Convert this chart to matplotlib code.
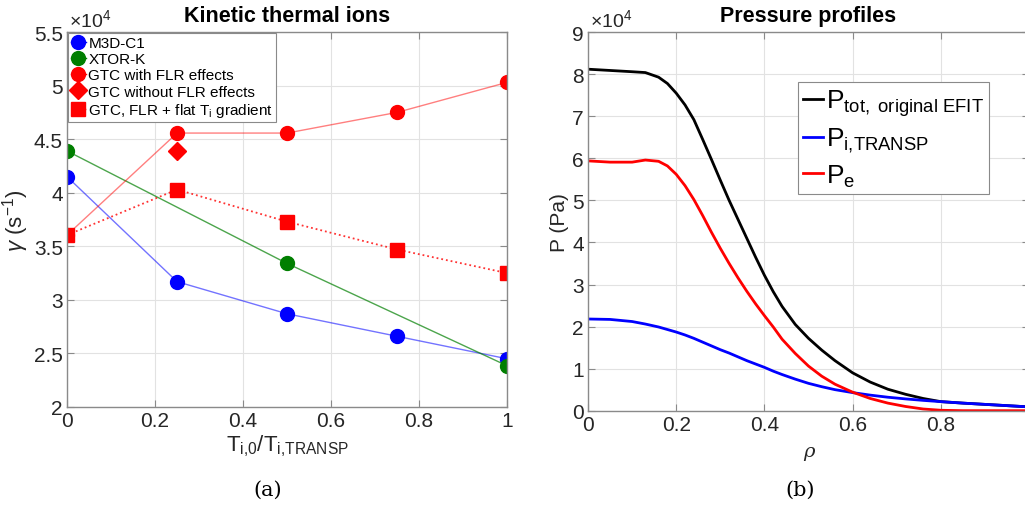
import numpy as np
from matplotlib import pyplot as plt
from matplotlib.ticker import FuncFormatter, MultipleLocator
from matplotlib.lines import Line2D

plt.rcParams['font.family'] = ['Liberation Sans', 'DejaVu Sans']
plt.rcParams['mathtext.fontset'] = 'custom'
plt.rcParams['mathtext.rm'] = 'Liberation Sans'
plt.rcParams['mathtext.it'] = 'Liberation Sans:italic'
plt.rcParams['mathtext.bf'] = 'Liberation Sans:bold'

# ---- panel (a): growth rate vs T_i,0 / T_i,TRANSP
ratio = [0, 0.25, 0.5, 0.75, 1.0]
m3d = [41500, 31700, 28700, 26600, 24500]
xtor_x = [0, 0.5, 1.0]
xtor = [43900, 33400, 23850]
gtc_flr = [36050, 45570, 45570, 47500, 50300]
gtc_noflr_x = [0.25]
gtc_noflr = [43900]
gtc_flat = [36050, 40300, 37300, 34700, 32500]

# ---- panel (b): pressure profiles (Pa)
rho = [0, 0.05, 0.1, 0.13, 0.16, 0.18, 0.2, 0.22, 0.24, 0.26, 0.28, 0.3, 0.32,
       0.34, 0.36, 0.38, 0.4, 0.42, 0.44, 0.47, 0.5, 0.53, 0.56, 0.6, 0.64,
       0.68, 0.72, 0.76, 0.8, 0.85, 0.9, 0.95, 1.0]
p_tot = [81200, 80900, 80600, 80400, 79300, 77800, 75500, 72700, 69200, 64500,
         59700, 54800, 50000, 45500, 41000, 36500, 32200, 28300, 24800, 20500,
         17200, 14400, 11900, 9000, 6800, 5100, 3900, 2900, 2150, 1800, 1500,
         1200, 900]
p_i = [21800, 21700, 21200, 20600, 19900, 19300, 18700, 18000, 17200, 16300,
       15400, 14500, 13700, 12800, 11900, 11100, 10300, 9400, 8600, 7500,
       6500, 5700, 5000, 4300, 3700, 3200, 2800, 2450, 2150, 1800, 1500,
       1200, 900]
p_e = [59400, 59100, 59100, 59600, 59300, 58200, 56200, 53500, 50200, 46400,
       42400, 38600, 35000, 31600, 28400, 25400, 22600, 19900, 17000, 13600,
       10600, 8200, 6300, 4400, 2900, 1800, 1000, 400, 100, 0, 0, 0, 0]

BLUE = '#0000ff'
GREEN = '#007f00'
RED = '#ff0000'
SPINE = '#8a8a8a'
TXT = '#262626'


def matlab_axes(ax):
	for s in ax.spines.values():
		s.set_color(SPINE)
		s.set_linewidth(1.0)
	ax.tick_params(direction='in', length=5, width=0.8, color=SPINE,
		labelsize=15, labelcolor=TXT, top=True, right=True, pad=3)
	ax.grid(True, color='#e2e2e2', linewidth=0.8)
	ax.set_axisbelow(True)
	ax.yaxis.set_major_formatter(FuncFormatter(lambda v, p: '%g' % round(v / 1e4, 3)))
	ax.xaxis.set_major_formatter(FuncFormatter(lambda v, p: '%g' % round(v, 3)))


fig = plt.figure(figsize=(10.25, 5.06), dpi=100)

# ---------------- (a)
ax1 = fig.add_axes([0.0654, 0.1937, 0.4293, 0.741])
ms = 10
ax1.plot(ratio, m3d, '-', color=BLUE, lw=1, alpha=0.55)
ax1.plot(ratio, m3d, 'o', color=BLUE, ms=ms, ls='none')
ax1.plot(xtor_x, xtor, '-', color=GREEN, lw=1, alpha=0.7)
ax1.plot(xtor_x, xtor, 'o', color=GREEN, ms=ms, ls='none')
ax1.plot(ratio, gtc_flr, '-', color=RED, lw=1, alpha=0.5)
ax1.plot(ratio, gtc_flr, 'o', color=RED, ms=ms, ls='none')
ax1.plot(gtc_noflr_x, gtc_noflr, 'D', color=RED, ms=9, ls='none')
ax1.plot(ratio, gtc_flat, ':', color=RED, lw=1.3, alpha=0.8)
ax1.plot(ratio, gtc_flat, 's', color=RED, ms=9.5, ls='none')

ax1.set_xlim(0, 1)
ax1.set_ylim(20000, 55000)
ax1.xaxis.set_major_locator(MultipleLocator(0.2))
ax1.yaxis.set_major_locator(MultipleLocator(5000))
matlab_axes(ax1)
ax1.set_title('Kinetic thermal ions', fontsize=15.5, fontweight='bold', color='black', pad=8)
ax1.text(0.005, 1.005, r'$\times$10$^{4}$', transform=ax1.transAxes, fontsize=14,
	color=TXT, va='bottom', ha='left')
ax1.set_xlabel(r'T$_{\mathrm{i{,}0}}$/T$_{\mathrm{i{,}TRANSP}}$', fontsize=16, color=TXT, labelpad=2)
ax1.set_ylabel(r'$\gamma$ (s$^{\mathrm{-1}}$)', fontsize=16, color=TXT, labelpad=2)

handles = [
	Line2D([], [], color=BLUE, marker='o', ms=ms, lw=1),
	Line2D([], [], color=GREEN, marker='o', ms=ms, lw=1),
	Line2D([], [], color=RED, marker='o', ms=ms, lw=1),
	Line2D([], [], color=RED, marker='D', ms=9, lw=1),
	Line2D([], [], color=RED, marker='s', ms=9.5, lw=1, ls=':'),
]
labels = ['M3D-C1', 'XTOR-K', 'GTC with FLR effects', 'GTC without FLR effects',
	r'GTC, FLR + flat T$_{\mathrm{i}}$ gradient']
leg1 = ax1.legend(handles, labels, loc='upper left', fontsize=11, handlelength=1.0,
	handletextpad=0.15, borderpad=0.2, labelspacing=0.15, borderaxespad=0.05,
	fancybox=False, framealpha=1, edgecolor=SPINE)
leg1.get_frame().set_linewidth(0.8)

# ---------------- (b)
ax2 = fig.add_axes([0.5737, 0.1864, 0.4302, 0.748])
ax2.plot(rho, p_tot, color='black', lw=2)
ax2.plot(rho, p_i, color=BLUE, lw=2)
ax2.plot(rho, p_e, color=RED, lw=2)
ax2.set_xlim(0, 1)
ax2.set_ylim(0, 90000)
ax2.xaxis.set_major_locator(MultipleLocator(0.2))
ax2.yaxis.set_major_locator(MultipleLocator(10000))
matlab_axes(ax2)
ax2.set_title('Pressure profiles', fontsize=15.5, fontweight='bold', color='black', pad=8)
ax2.text(0.005, 1.005, r'$\times$10$^{4}$', transform=ax2.transAxes, fontsize=14,
	color=TXT, va='bottom', ha='left')
ax2.set_xlabel('ρ', fontsize=14, color=TXT, family='DejaVu Serif', style='italic', labelpad=6)
ax2.set_ylabel('P (Pa)', fontsize=15, color=TXT, labelpad=2)

labels2 = [r'P$_{\mathrm{tot,\ original\ EFIT}}$', r'P$_{\mathrm{i{,}TRANSP}}$', r'P$_{\mathrm{e}}$']
leg2 = ax2.legend(labels2, loc='upper left', bbox_to_anchor=(0.476, 0.868), fontsize=19,
	handlelength=0.75, handletextpad=0.1, borderpad=0.2, labelspacing=0.3,
	borderaxespad=0, fancybox=False, framealpha=1, edgecolor=SPINE)
leg2.get_frame().set_linewidth(0.8)

fig.text(0.2607, 0.012, '(a)', fontsize=15, family='DejaVu Serif', ha='center', va='bottom')
fig.text(0.7805, 0.012, '(b)', fontsize=15, family='DejaVu Serif', ha='center', va='bottom')

plt.savefig('out.png', dpi=100)
plt.close()
